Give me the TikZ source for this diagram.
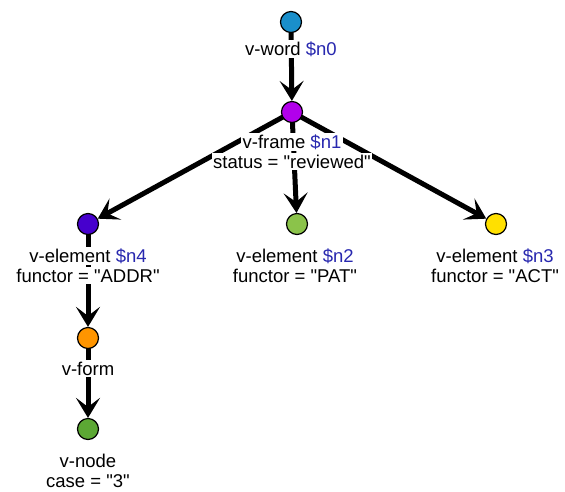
\documentclass[tikz,border=0pt]{standalone}
\usepackage{fontspec}
\setmainfont{Liberation Sans}[Ligatures=TeXOff]
\usetikzlibrary{arrows.meta,backgrounds}
\definecolor{cN0}{RGB}{26,143,203}
\definecolor{cN1}{RGB}{178,0,235}
\definecolor{cN4}{RGB}{70,0,205}
\definecolor{cN2}{RGB}{139,195,74}
\definecolor{cN3}{RGB}{255,224,0}
\definecolor{cForm}{RGB}{255,149,0}
\definecolor{cNode}{RGB}{92,168,52}
\definecolor{varblue}{RGB}{40,40,175}
\tikzset{
  dot/.style={circle, draw=black, line width=1.2pt, minimum size=21pt, inner sep=0pt},
  lbl/.style={anchor=base, fill=white, inner sep=1.5pt, font=\fontsize{18.5}{20.5}\selectfont},
  edge/.style={line width=5pt, -{Stealth[length=20pt,width=24pt,inset=9pt]}},
  var/.style={text=varblue}
}
\begin{document}
\begin{tikzpicture}[x=1pt,y=-1pt]
\useasboundingbox (0,0) rectangle (565,491);
% circles
\node[dot, fill=cN0] (n0) at (291,22) {};
\node[dot, fill=cN1] (n1) at (292,112) {};
\node[dot, fill=cN4] (n4) at (88,224) {};
\node[dot, fill=cN2] (n2) at (297,224) {};
\node[dot, fill=cN3] (n3) at (496,224) {};
\node[dot, fill=cForm] (nf) at (88,338) {};
\node[dot, fill=cNode] (nv) at (88,429) {};
% edges
\begin{scope}[on background layer]
\draw[edge] (n0.center) -- (n1);
\draw[edge] (n1.center) -- (n4);
\draw[edge] (n1.center) -- (n2);
\draw[edge] (n1.center) -- (n3);
\draw[edge] (n4.center) -- (nf);
\draw[edge] (nf.center) -- (nv);
\end{scope}
% labels
\node[lbl] (l0) at (291,55) {v-word \textcolor{varblue}{\$n0}};
\node[lbl] (l1a) at (292,148) {v-frame \textcolor{varblue}{\$n1}};
\node[lbl] (l1b) at (292,168) {status = "reviewed"};
\node[lbl] (l4a) at (88,262) {v-element \textcolor{varblue}{\$n4}};
\node[lbl] (l4b) at (88,282) {functor = "ADDR"};
\node[lbl] (l2a) at (295,262) {v-element \textcolor{varblue}{\$n2}};
\node[lbl] (l2b) at (295,282) {functor = "PAT"};
\node[lbl] (l3a) at (495,262) {v-element \textcolor{varblue}{\$n3}};
\node[lbl] (l3b) at (495,282) {functor = "ACT"};
\node[lbl] (lf) at (88,375) {v-form};
\node[lbl] (lva) at (88,467) {v-node};
\node[lbl] (lvb) at (88,487) {case = "3"};
\end{tikzpicture}
\end{document}
